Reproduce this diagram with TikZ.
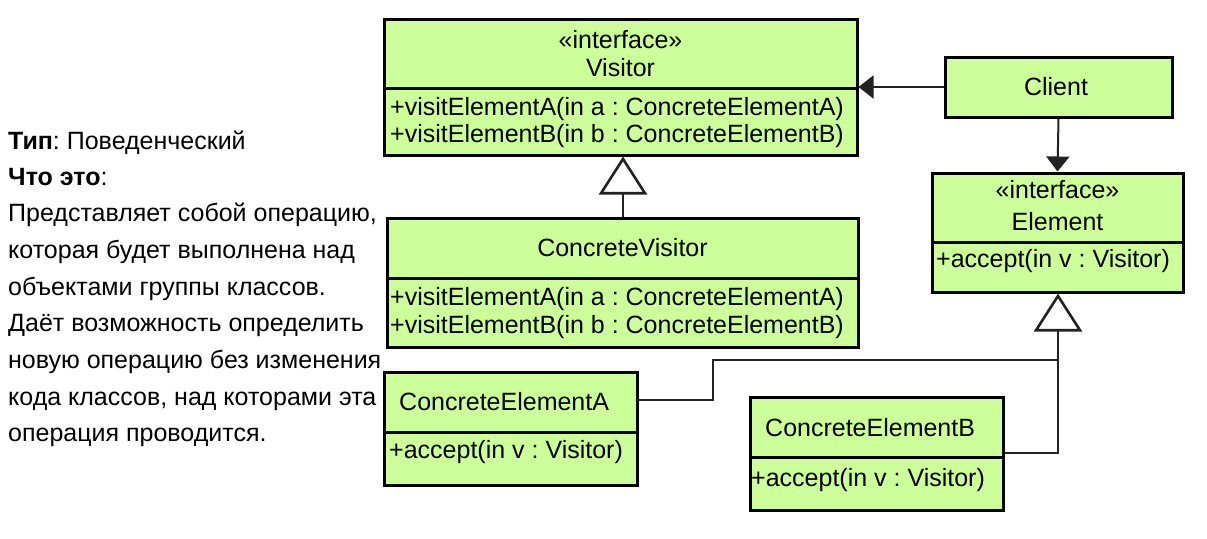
\documentclass[tikz,border=0pt]{standalone}
\usepackage{fontspec}
\setmainfont{Liberation Sans}
\usetikzlibrary{arrows.meta}
\definecolor{boxgreen}{HTML}{CCFF99}
\definecolor{linegray}{HTML}{222222}
\frenchspacing
\begin{document}
\begin{tikzpicture}[x=1pt,y=-1pt,
  box/.style={draw=black, line width=3pt, fill=boxgreen, inner sep=0pt, rectangle},
  divider/.style={line width=3pt, draw=black},
  txt/.style={inner sep=0pt, font=\fontsize{25}{30}\selectfont},
  ctxt/.style={txt, anchor=base},
  ltxt/.style={txt, anchor=base west},
  conn/.style={line width=2pt, draw=linegray},
  assoc/.style={conn, -{Triangle[length=15pt,width=23pt]}},
  inh/.style={conn, -{Triangle[fill=white,length=38pt,width=48pt,line width=2.6pt]}},
  desc/.style={inner sep=0pt, anchor=base west, font=\fontsize{25}{30}\selectfont}]
\fill[white] (0,0) rectangle (1207,538);
\useasboundingbox (0,0) rectangle (1207,538);

% Visitor
\node[box, minimum width=473pt, minimum height=136pt] (visitor) at (620.5,87) {};
\draw[divider] (visitor.west |- 0,88) -- (visitor.east |- 0,88);
\node[ctxt] (visitorst) at (620.5,48) {«interface»};
\node[ctxt] (visitorname) at (620.5,76) {Visitor};
\node[ltxt] (visitorm1) at (390,115) {+visitElementA(in a : ConcreteElementA)};
\node[ltxt] (visitorm2) at (390,142.5) {+visitElementB(in b : ConcreteElementB)};

% Client
\node[box, minimum width=227pt, minimum height=60pt] (client) at (1058.5,87) {};
\node[ctxt] (clientname) at (1056,95) {Client};

% Element
\node[box, minimum width=251pt, minimum height=119pt] (element) at (1057.5,232.5) {};
\draw[divider] (element.west |- 0,242) -- (element.east |- 0,242);
\node[ctxt] (elementst) at (1057.5,198.5) {«interface»};
\node[ctxt] (elementname) at (1057.5,230) {Element};
\node[ltxt] (elementm1) at (936,267) {+accept(in v : Visitor)};

% ConcreteVisitor
\node[box, minimum width=471pt, minimum height=129pt] (cv) at (622.5,282.5) {};
\draw[divider] (cv.west |- 0,278.5) -- (cv.east |- 0,278.5);
\node[ctxt] (cvname) at (622.5,256.5) {ConcreteVisitor};
\node[ltxt] (cvm1) at (390,305.5) {+visitElementA(in a : ConcreteElementA)};
\node[ltxt] (cvm2) at (390,333.5) {+visitElementB(in b : ConcreteElementB)};

% ConcreteElementA
\node[box, minimum width=253pt, minimum height=113pt] (cea) at (510.5,428.5) {};
\draw[divider] (cea.west |- 0,432) -- (cea.east |- 0,432);
\node[ltxt] (ceaname) at (399,410.5) {ConcreteElementA};
\node[ltxt] (ceam1) at (389,458.5) {+accept(in v : Visitor)};

% ConcreteElementB
\node[box, minimum width=253pt, minimum height=113pt] (ceb) at (876.5,453.5) {};
\draw[divider] (ceb.west |- 0,457) -- (ceb.east |- 0,457);
\node[ltxt] (cebname) at (765,436) {ConcreteElementB};
\node[ltxt] (cebm1) at (751,486) {+accept(in v : Visitor)};

% connectors
\draw[assoc] (client.west) -- (visitor.east |- client.west);
\draw[assoc] (client.south) -- (element.north);
\draw[inh] (cv.north -| 623,0) -- (visitor.south -| 623,0);
\coordinate (cornerA) at (713,400);
\coordinate (cornerB) at (713,360);
\coordinate (joint) at (1058,360);
\draw[conn] (ceb.east |- 0,453) -| (joint);
\draw[inh] (cea.east |- 0,400) -- (cornerA) -- (cornerB) -- (joint) -- (joint |- element.south);

% description
\node[desc] (d1) at (8,149.5) {\textbf{Тип}: Поведенческий};
\node[desc] (d2) at (8,185) {\textbf{Что это}:};
\node[desc] (d3) at (8,221.5) {Представляет собой операцию,};
\node[desc] (d4) at (8,258) {которая будет выполнена над};
\node[desc] (d5) at (8,295) {объектами группы классов.};
\node[desc] (d6) at (8,331.5) {Даёт возможность определить};
\node[desc] (d7) at (8,368) {новую операцию без изменения};
\node[desc] (d8) at (8,405) {кода классов, над которами эта};
\node[desc] (d9) at (8,441.5) {операция проводится.};
\end{tikzpicture}
\end{document}
